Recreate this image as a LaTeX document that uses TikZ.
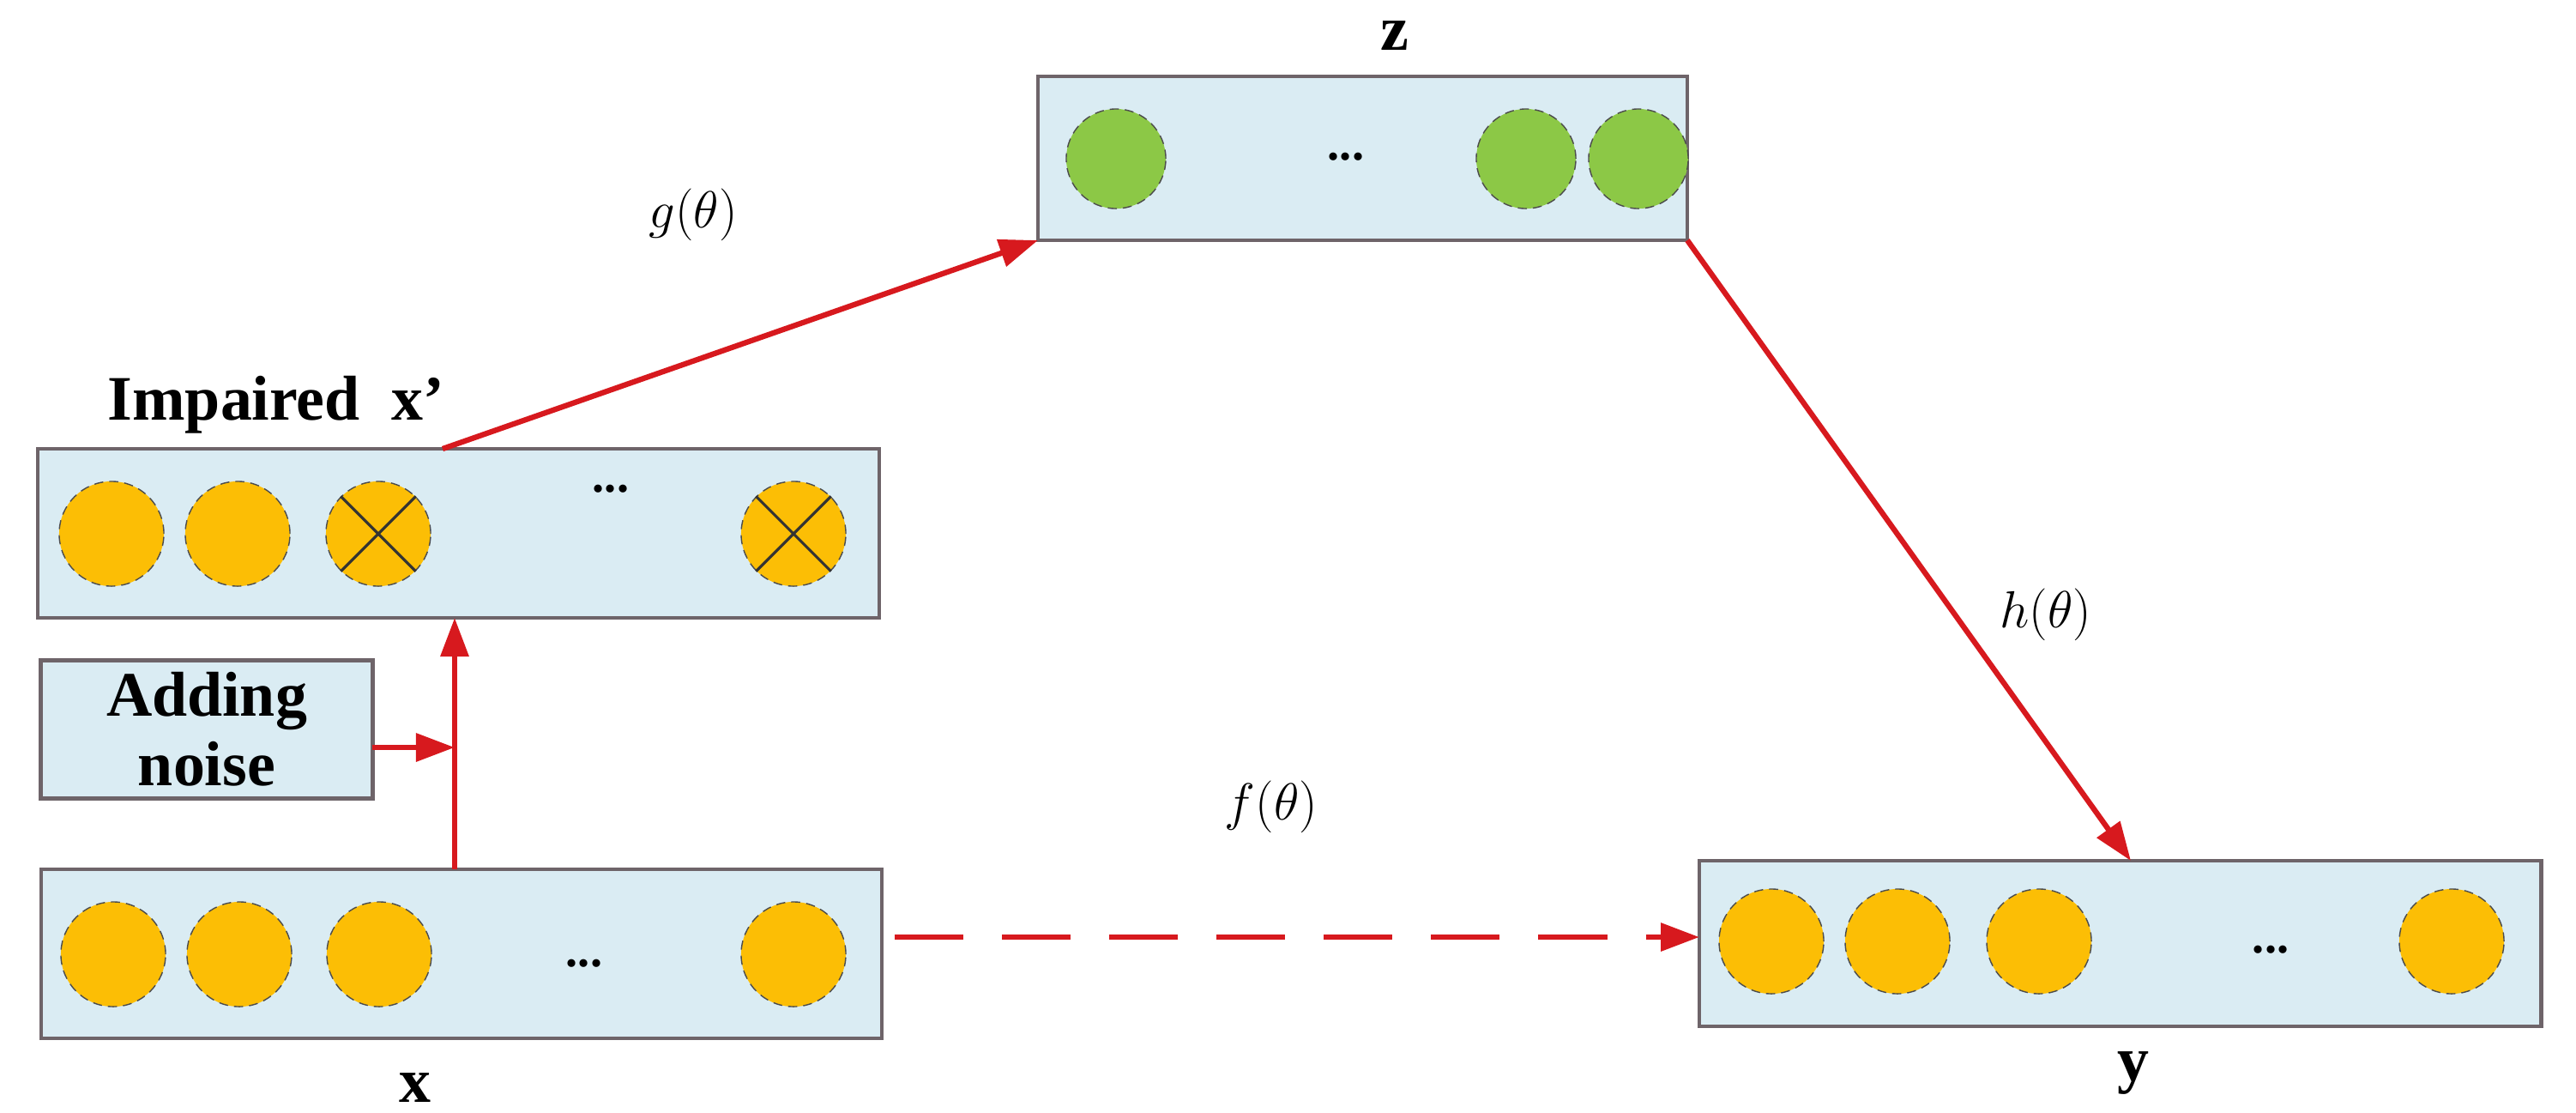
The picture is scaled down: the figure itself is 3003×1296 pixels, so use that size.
\documentclass[tikz,border=0pt]{standalone}
\usepackage{fontspec}
\setmainfont{Liberation Serif}
\usetikzlibrary{arrows.meta}
\definecolor{boxfill}{RGB}{218,236,243}
\definecolor{boxline}{RGB}{110,100,105}
\definecolor{org}{RGB}{252,190,5}
\definecolor{grn}{RGB}{140,200,70}
\definecolor{arr}{RGB}{215,25,30}
\begin{document}
\begin{tikzpicture}[x=0.01cm,y=-0.01cm,
  layer/.style={draw=boxline,line width=1.4pt,fill=boxfill},
  unit/.style={circle,draw=black!70,densely dashed,line width=0.4pt,fill=org,minimum size=1.22cm,inner sep=0pt},
  gunit/.style={unit,fill=grn,minimum size=1.16cm},
  lab/.style={font=\bfseries\fontsize{21}{24}\selectfont},
  mlab/.style={font=\fontsize{17}{20}\selectfont},
  dots/.style={font=\bfseries\fontsize{16}{18}\selectfont},
  arrow/.style={draw=arr,line width=1.8pt,-{Triangle[length=0.45cm,width=0.32cm]}}]
\useasboundingbox (0,0) rectangle (3003,1296);
% boxes
\draw[layer] (44,523) rectangle (1025,720);
\coordinate (ximp-top) at (516,523);
\coordinate (ximp-bot) at (530,720);
\draw[layer] (48,1013) rectangle (1028,1210);
\coordinate (x-top) at (530,1013);
\coordinate (xs) at (1043,1092);
\draw[layer] (1210,89) rectangle (1967,280);
\coordinate (z-bl) at (1210,280);
\coordinate (z-br) at (1967,280);
\draw[layer] (1981,1003) rectangle (2962,1196);
\coordinate (y-top) at (2484,1003);
\coordinate (y-left) at (1981,1092);
\node[layer,minimum width=3.86cm,minimum height=1.61cm,inner sep=0pt,align=center,font=\bfseries\fontsize{21}{23}\selectfont] (noise) at (241,850) {Adding\\noise};
\coordinate (ns) at (434,871);
\coordinate (nt) at (530,871);
% units impaired
\node[unit] (i1) at (130,622) {};
\node[unit] (i2) at (277,622) {};
\node[unit] (i3) at (441,622) {};
\node[unit] (i4) at (925,622) {};
\foreach \n in {i3,i4}{\draw[black!80,line width=0.9pt] (\n.north west) -- (\n.south east) (\n.north east) -- (\n.south west);}
\node[dots] (di) at (712,570) {...};
% units x
\node[unit] (x1) at (132,1112) {};
\node[unit] (x2) at (279,1112) {};
\node[unit] (x3) at (442,1112) {};
\node[unit] (x4) at (925,1112) {};
\node[dots] (dx) at (681,1123) {...};
% units z
\node[gunit] (z1) at (1301,185) {};
\node[gunit] (z2) at (1779,185) {};
\node[gunit] (z3) at (1910,185) {};
\node[dots] (dz) at (1569,183) {...};
% units y
\node[unit] (y1) at (2065,1097) {};
\node[unit] (y2) at (2212,1097) {};
\node[unit] (y3) at (2377,1097) {};
\node[unit] (y4) at (2858,1097) {};
\node[dots] (dy) at (2647,1107) {...};
% labels
\node[lab] (limp) at (322,472) {Impaired\ \ x’};
\node[lab] (lx) at (484,1268) {x};
\node[lab] (lz) at (1626,42) {z};
\node[lab] (ly) at (2487,1250) {y};
\node[mlab] (lg) at (808,250) {$g(\theta)$};
\node[mlab] (lh) at (2385,716) {$h(\theta)$};
\node[mlab] (lf) at (1482,940) {$f(\theta)$};
% arrows
\draw[arrow] (ximp-top) -- (z-bl);
\draw[arrow] (z-br) -- (y-top);
\draw[arrow] (x-top) -- (ximp-bot);
\draw[arrow] (ns) -- (nt);
\draw[arrow,dash pattern=on 0.8cm off 0.45cm] (xs) -- (y-left);
\end{tikzpicture}
\end{document}
